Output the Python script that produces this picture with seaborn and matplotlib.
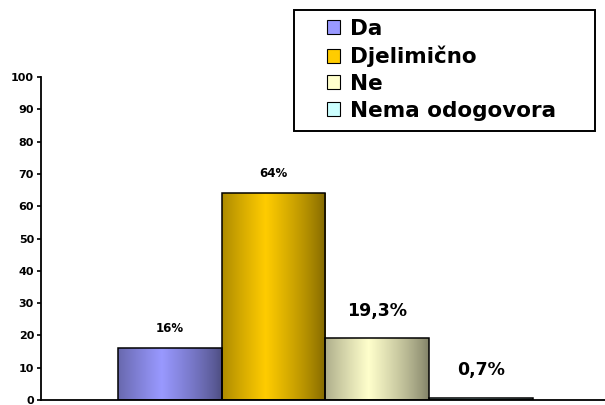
import numpy as np
import pandas as pd
import matplotlib
matplotlib.use("Agg")
import matplotlib.pyplot as plt
from matplotlib.patches import Patch, Rectangle
from matplotlib.colors import to_rgb
import seaborn as sns

categories = ["Da", "Djelimično", "Ne", "Nema odogovora"]
values = [16, 64, 19.3, 0.7]
value_labels = ["16%", "64%", "19,3%", "0,7%"]
base_colors = ["#9999FF", "#FFCC00", "#FFFFCC", "#CCFFFF"]
yticks = list(range(0, 101, 10))

sns.set_theme(style="white")
plt.rcParams["font.family"] = ["DejaVu Sans"]
plt.rcParams["font.weight"] = "bold"
plt.rcParams["text.color"] = "black"

fig = plt.figure(figsize=(6.05, 4.05), dpi=100)
W, H = 605, 405
ax = fig.add_axes([41 / W, 5 / H, (605 - 41) / W, (400 - 77) / H])

df = pd.DataFrame({"cat": categories, "val": values})
sns.barplot(data=df, x="cat", y="val", hue="cat", palette=base_colors,
            dodge=False, width=1.0, edgecolor="black", linewidth=1.1,
            legend=False, ax=ax)

# cylinder-style shading: dark edges, bright core slightly left of centre
t = np.linspace(0, 1, 256)
profile = np.clip(1 - np.abs(t - 0.42) / 0.58, 0, 1) ** 0.8
shade = 0.5 + 0.5 * profile
for patch, col in zip(ax.patches, base_colors):
    x0, y0 = patch.get_x(), patch.get_y()
    w, h = patch.get_width(), patch.get_height()
    rgb = np.array(to_rgb(col))
    img = (shade[:, None] * rgb[None, :])[None, :, :]
    im = ax.imshow(img, extent=[x0, x0 + w, y0, y0 + h], aspect="auto",
                   interpolation="bilinear", zorder=2)
    im.set_clip_path(patch)
    patch.set_facecolor("none")
    patch.set_zorder(3)

# value labels above bars
label_sizes = [8.5, 8.5, 12.5, 12.5]
label_offsets = [14, 14.5, 19.5, 20]
for patch, lab, fs, off in zip(ax.patches, value_labels, label_sizes, label_offsets):
    xc = patch.get_x() + patch.get_width() / 2
    ax.annotate(lab, (xc, patch.get_height()), xytext=(0, off),
                textcoords="offset points", ha="center", va="center",
                fontsize=fs, fontweight="bold", color="black")

ax.set_xlim(-1.246, 4.2)
ax.set_ylim(0, 100)
ax.set_yticks(yticks)
ax.set_yticklabels([str(v) for v in yticks], fontsize=8, fontweight="bold")
ax.set_xticks([])
ax.set_xlabel("")
ax.set_ylabel("")
ax.tick_params(axis="y", direction="out", length=3, width=1.2, pad=2,
               left=True, colors="black")
for s in ["top", "right"]:
    ax.spines[s].set_visible(False)
for s in ["left", "bottom"]:
    ax.spines[s].set_color("black")
    ax.spines[s].set_linewidth(1.3)
ax.set_facecolor("none")

# legend box
fig.patches.append(Rectangle((294 / W, 1 - 131 / H), (595 - 294) / W, (131 - 10) / H,
                             transform=fig.transFigure, facecolor="white",
                             edgecolor="black", linewidth=1.4, zorder=1))
handles = [Patch(facecolor=c, edgecolor="black", linewidth=0.8) for c in base_colors]
leg = fig.legend(handles, categories, loc="upper left",
                 bbox_to_anchor=(327 / W, 1 - 19 / H), bbox_transform=fig.transFigure,
                 frameon=False, prop={"size": 15.5, "weight": "bold"},
                 labelcolor="black",
                 handlelength=0.62, handleheight=0.62, handletextpad=0.45,
                 labelspacing=0.31, borderpad=0, borderaxespad=0)
leg.set_zorder(2)

fig.savefig("out.png", dpi=100)
